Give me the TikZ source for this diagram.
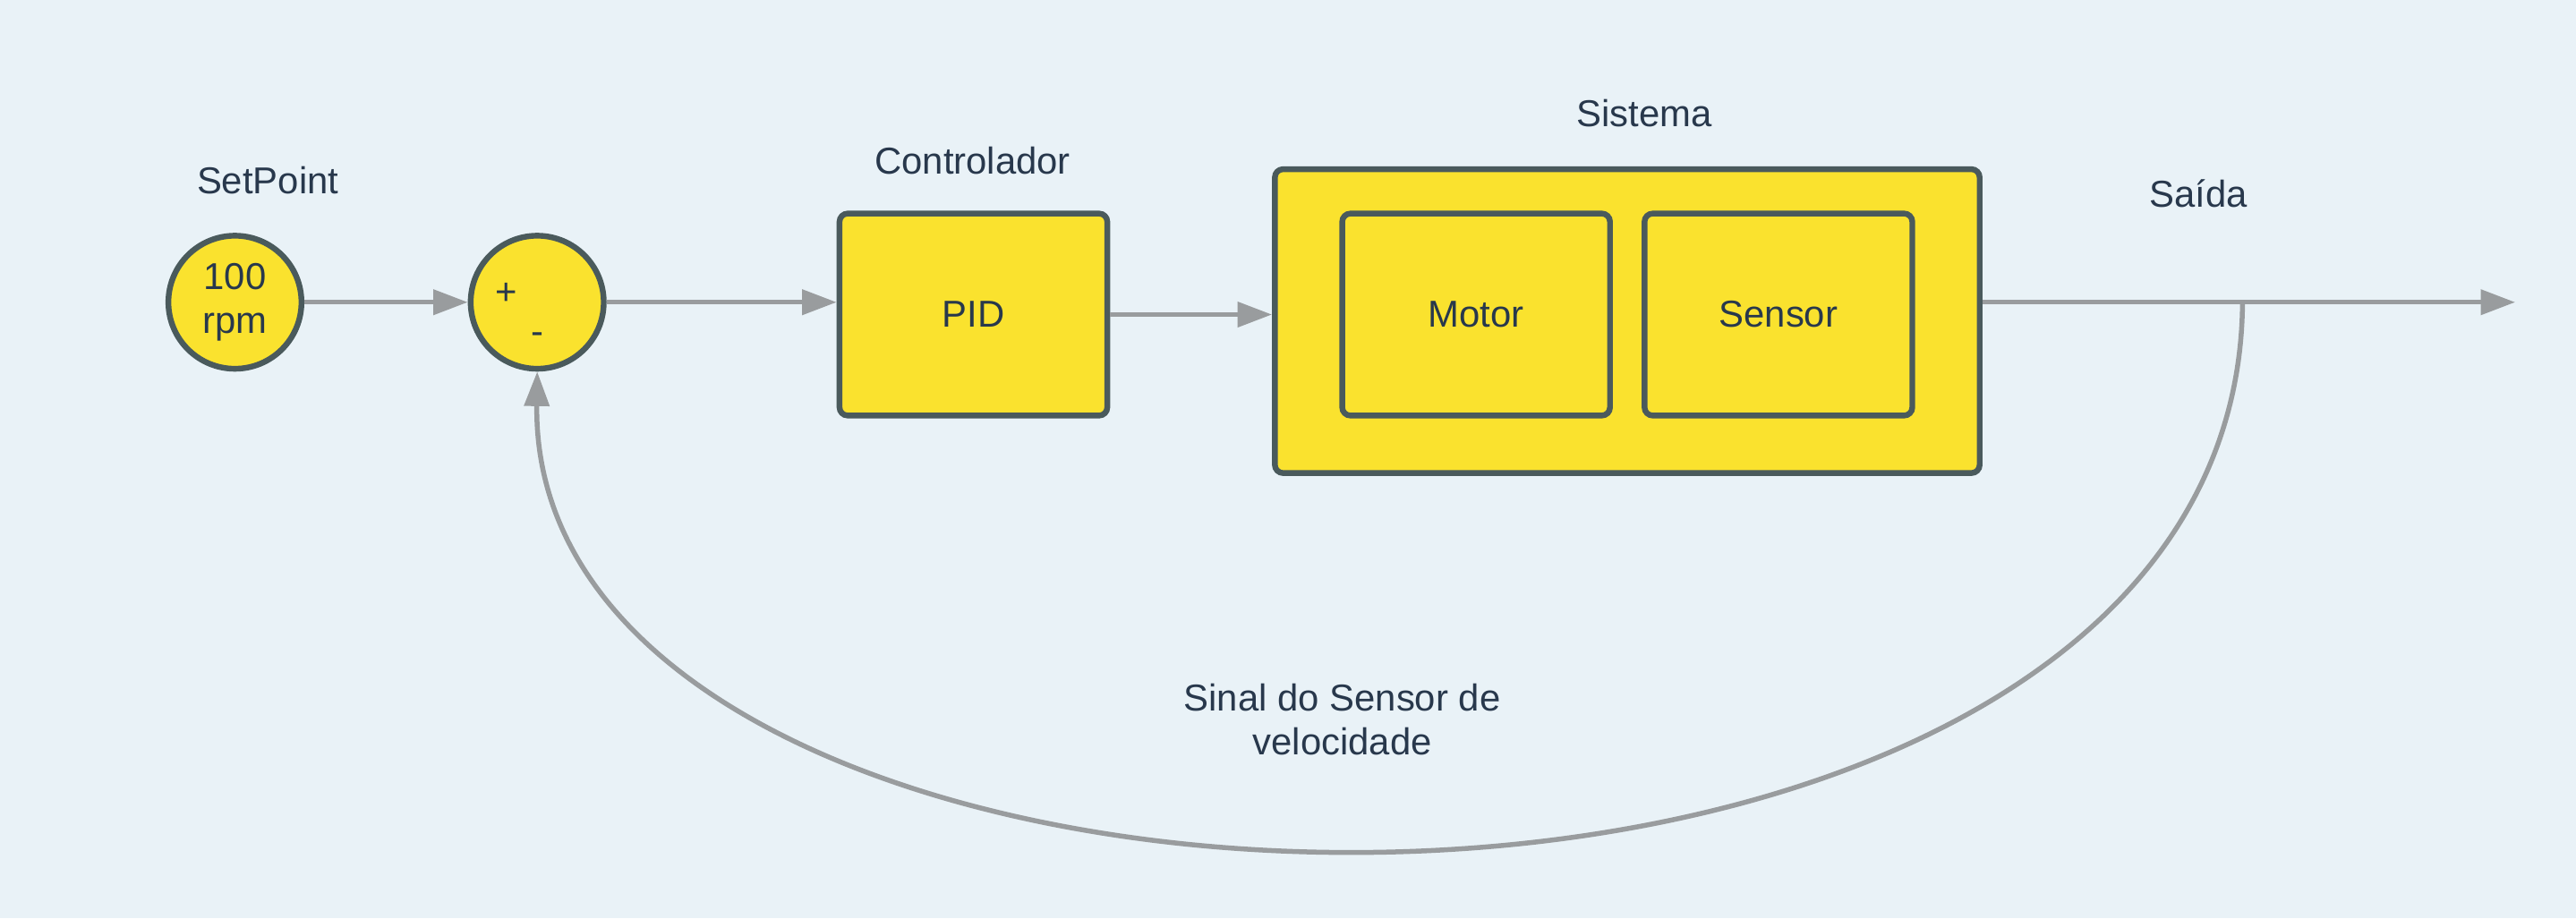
\documentclass[tikz,border=0pt]{standalone}
\usepackage{fontspec}
\setmainfont{Liberation Sans}
\usetikzlibrary{arrows.meta}

\definecolor{fundo}{RGB}{233,242,247}
\definecolor{amarelo}{RGB}{250,226,46}
\definecolor{borda}{RGB}{74,90,92}
\definecolor{seta}{RGB}{153,156,158}
\definecolor{texto}{RGB}{40,56,76}

\tikzset{every picture/.style={line width=0.75pt}}
\tikzset{
  bloco/.style={draw=borda,fill=amarelo,line width=1.75pt,rounded corners=2.5pt,text=texto,inner sep=0pt},
  circulo/.style={circle,draw=borda,fill=amarelo,line width=1.75pt,text=texto,inner sep=0pt,minimum size=40.5pt,align=center},
  rotulo/.style={text=texto,inner sep=0.75pt,align=center},
  fluxo/.style={draw=seta,line width=1.5pt,-{Triangle[length=10.5pt,width=7.5pt]}}
}

\begin{document}
\begin{tikzpicture}[x=0.5pt,y=0.5pt,yscale=-1,xscale=1,font=\fontsize{11.4}{13.5}\selectfont]
%set diagram size
\fill[fundo] (0,0) rectangle (1568,559);
\useasboundingbox (0,0) rectangle (1568,559);

%Shape: Circle [setpoint]
\node[circulo] (setpoint) at (143,184) {100\\rpm};
%Shape: Circle [somador]
\node[circulo] (soma) at (327,184) {};
%Shape: Rectangle [PID]
\node[bloco,minimum width=81.5pt,minimum height=61.5pt] (pid) at (592.5,191.5) {PID};
%Shape: Rectangle [sistema]
\node[bloco,minimum width=214.5pt,minimum height=92.5pt] (sistema) at (990.5,195.5) {};
%Shape: Rectangle [motor]
\node[bloco,minimum width=81.5pt,minimum height=61.5pt] (motor) at (898.5,191.5) {Motor};
%Shape: Rectangle [sensor]
\node[bloco,minimum width=81.5pt,minimum height=61.5pt] (sensor) at (1082.5,191.5) {Sensor};

%Coordinates of the output line
\coordinate (ramo) at (1365,184);
\coordinate (saida) at (1531,184);

%Straight Lines
\draw[fluxo] (setpoint) -- (soma);
%Straight Lines
\draw[fluxo] (soma) -- (soma -| pid.west);
%Straight Lines
\draw[fluxo] (pid.east) -- (pid.east -| sistema.west);
%Straight Lines
\draw[fluxo] (sistema.east |- soma) -- (saida);
%Curve Lines
\draw[fluxo] (ramo) .. controls (1362,630) and (322,610) .. (soma.south);

% Text Node
\node[rotulo] (mais) at (308,179) {+};
% Text Node
\node[rotulo] (menos) at (327,206) {-};
% Text Node
\node[rotulo] (tsetpoint) at (163,110) {SetPoint};
% Text Node
\node[rotulo] (tcontrolador) at (592,98) {Controlador};
% Text Node
\node[rotulo] (tsistema) at (1001,69) {Sistema};
% Text Node
\node[rotulo] (tsaida) at (1338,118) {Saída};
% Text Node
\node[rotulo] (tsinal) at (817,438) {Sinal do Sensor de\\velocidade};

\end{tikzpicture}
\end{document}
